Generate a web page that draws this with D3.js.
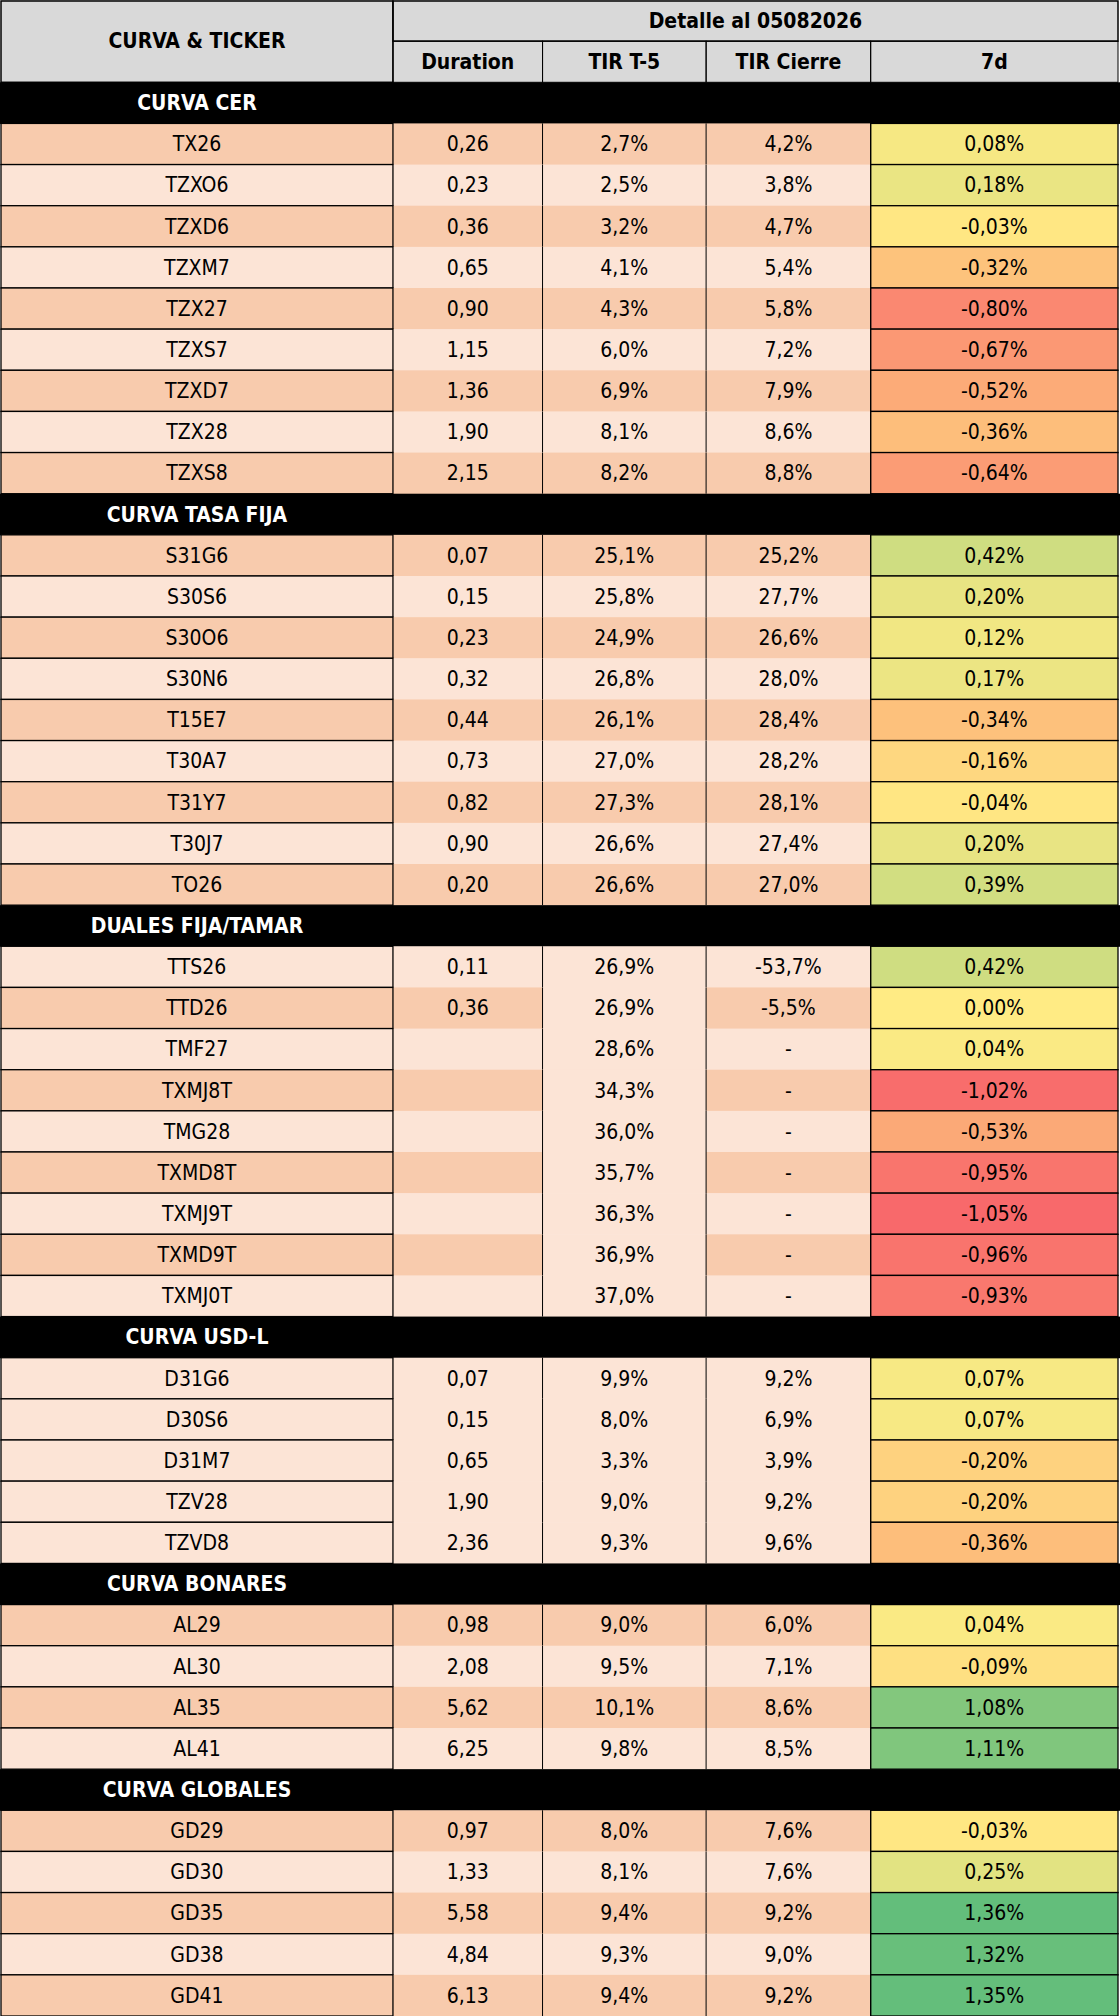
<!DOCTYPE html>
<html><head><meta charset="utf-8">
<script src="https://cdn.jsdelivr.net/npm/d3@7"></script>
<style>body{margin:0;background:#fff}text{font-family:"Liberation Sans Narrow","Arial Narrow","DejaVu Sans Condensed","DejaVu Sans",sans-serif;font-stretch:condensed}</style>
</head><body><div id="chart"></div>
<script>
var svgWidth = 1120, svgHeight = 2016;

// data
var dateLabel = "Detalle al 05082026";
var columns = ["Duration", "TIR T-5", "TIR Cierre", "7d"];
var sections = ["CURVA CER", "CURVA TASA FIJA", "DUALES FIJA/TAMAR", "CURVA USD-L", "CURVA BONARES", "CURVA GLOBALES"];
var tickers = [
  ["TX26","TZXO6","TZXD6","TZXM7","TZX27","TZXS7","TZXD7","TZX28","TZXS8"],
  ["S31G6","S30S6","S30O6","S30N6","T15E7","T30A7","T31Y7","T30J7","TO26"],
  ["TTS26","TTD26","TMF27","TXMJ8T","TMG28","TXMD8T","TXMJ9T","TXMD9T","TXMJ0T"],
  ["D31G6","D30S6","D31M7","TZV28","TZVD8"],
  ["AL29","AL30","AL35","AL41"],
  ["GD29","GD30","GD35","GD38","GD41"]
];
var duration = [
  [0.26,0.23,0.36,0.65,0.90,1.15,1.36,1.90,2.15],
  [0.07,0.15,0.23,0.32,0.44,0.73,0.82,0.90,0.20],
  [0.11,0.36,null,null,null,null,null,null,null],
  [0.07,0.15,0.65,1.90,2.36],
  [0.98,2.08,5.62,6.25],
  [0.97,1.33,5.58,4.84,6.13]
];
var tirT5 = [
  [2.7,2.5,3.2,4.1,4.3,6.0,6.9,8.1,8.2],
  [25.1,25.8,24.9,26.8,26.1,27.0,27.3,26.6,26.6],
  [26.9,26.9,28.6,34.3,36.0,35.7,36.3,36.9,37.0],
  [9.9,8.0,3.3,9.0,9.3],
  [9.0,9.5,10.1,9.8],
  [8.0,8.1,9.4,9.3,9.4]
];
var tirCierre = [
  [4.2,3.8,4.7,5.4,5.8,7.2,7.9,8.6,8.8],
  [25.2,27.7,26.6,28.0,28.4,28.2,28.1,27.4,27.0],
  [-53.7,-5.5,null,null,null,null,null,null,null],
  [9.2,6.9,3.9,9.2,9.6],
  [6.0,7.1,8.6,8.5],
  [7.6,7.6,9.2,9.0,9.2]
];
var var7d = [
  [0.08,0.18,-0.03,-0.32,-0.80,-0.67,-0.52,-0.36,-0.64],
  [0.42,0.20,0.12,0.17,-0.34,-0.16,-0.04,0.20,0.39],
  [0.42,0.00,0.04,-1.02,-0.53,-0.95,-1.05,-0.96,-0.93],
  [0.07,0.07,-0.20,-0.20,-0.36],
  [0.04,-0.09,1.08,1.11],
  [-0.03,0.25,1.36,1.32,1.35]
];

// styling
var colWeights = [393, 150, 164, 165, 248];
var stripeStart = [1, 1, 0, -1, 1, 1]; // 1 = dark first, 0 = light first, -1 = none
var dark = "#F8CBAD", light = "#FCE4D6";
var fs = 21;

var fmt = function(v, d) { return v.toFixed(d).replace(".", ","); };

// flatten into rows
var rows = [];
sections.forEach(function(s, si) {
  rows.push({type: "section", label: s});
  tickers[si].forEach(function(t, i) {
    var st = stripeStart[si];
    var isDark = st < 0 ? false : ((i % 2 === 0) === (st === 1));
    rows.push({type: "data", si: si, i: i, ticker: t, dur: duration[si][i], t5: tirT5[si][i],
      tc: tirCierre[si][i], v: var7d[si][i], dark: isDark});
  });
});

var nRows = rows.length + 2;
var y = d3.scaleBand().domain(d3.range(nRows)).range([0, svgHeight]);
var cum = [0].concat(Array.from(d3.cumsum(colWeights)));
var x = d3.scaleLinear().domain([0, d3.sum(colWeights)]).range([1, svgWidth - 2]);
var colX = function(c) { return x(cum[c]); };
var colW = function(c) { return x(cum[c + 1]) - x(cum[c]); };

var color7d = d3.scaleLinear()
  .domain([d3.min(var7d.flat()), 0, d3.max(var7d.flat())])
  .range(["#F8696B", "#FFEB84", "#63BE7B"]);

var svg = d3.select("#chart").append("svg").attr("width", svgWidth).attr("height", svgHeight);
var rh = y.bandwidth();

// header
var hdr = svg.append("g");
hdr.append("rect").attr("x", colX(0)).attr("y", y(0)).attr("width", colX(5) - colX(0)).attr("height", 2 * rh).attr("fill", "#D9D9D9");
hdr.append("rect").attr("x", colX(0)).attr("y", y(0) + 1).attr("width", colW(0)).attr("height", 2 * rh - 1).attr("fill", "none").attr("stroke", "#000").attr("stroke-width", 1.5);
hdr.append("rect").attr("x", colX(1)).attr("y", y(0) + 1).attr("width", colX(5) - colX(1)).attr("height", rh - 1).attr("fill", "none").attr("stroke", "#000").attr("stroke-width", 1.5);
columns.forEach(function(c, k) {
  hdr.append("rect").attr("x", colX(k + 1)).attr("y", y(1)).attr("width", colW(k + 1)).attr("height", rh).attr("fill", "none").attr("stroke", "#000").attr("stroke-width", 1);
  hdr.append("text").attr("x", colX(k + 1) + colW(k + 1) / 2).attr("y", y(1) + rh / 2).attr("dy", "0.35em")
    .attr("text-anchor", "middle").attr("font-weight", "bold").attr("font-size", fs).text(c);
});
hdr.append("text").attr("x", colX(0) + colW(0) / 2).attr("y", y(1)).attr("dy", "0.35em")
  .attr("text-anchor", "middle").attr("font-weight", "bold").attr("font-size", fs).text("CURVA & TICKER");
hdr.append("text").attr("x", (colX(1) + colX(5)) / 2).attr("y", y(0) + rh / 2).attr("dy", "0.35em")
  .attr("text-anchor", "middle").attr("font-weight", "bold").attr("font-size", fs).text(dateLabel);

// body
var body = svg.append("g");
rows.forEach(function(r, k) {
  var yy = y(k + 2);
  if (r.type === "section") {
    body.append("rect").attr("x", 0).attr("y", yy).attr("width", svgWidth).attr("height", rh + 0.5).attr("fill", "#000");
    body.append("text").attr("x", colX(0) + colW(0) / 2).attr("y", yy + rh / 2).attr("dy", "0.35em")
      .attr("text-anchor", "middle").attr("font-weight", "bold").attr("font-size", fs).attr("fill", "#fff").text(r.label);
    return;
  }
  var fills = [r.dark ? dark : light, r.dark ? dark : light,
    (r.si === 2) ? light : (r.dark ? dark : light), r.dark ? dark : light, color7d(r.v)];
  var texts = [r.ticker, r.dur == null ? "" : fmt(r.dur, 2), fmt(r.t5, 1) + "%",
    r.tc == null ? "-" : fmt(r.tc, 1) + "%", fmt(r.v, 2) + "%"];
  fills.forEach(function(f, c) {
    body.append("rect").attr("x", colX(c)).attr("y", yy).attr("width", colW(c)).attr("height", rh + 0.5).attr("fill", f);
    body.append("text").attr("x", colX(c) + colW(c) / 2).attr("y", yy + rh / 2).attr("dy", "0.35em")
      .attr("text-anchor", "middle").attr("font-size", fs).attr("fill", "#000").text(texts[c]);
  });
  // borders: full box in ticker and 7d columns
  [0, 4].forEach(function(c) {
    body.append("rect").attr("x", colX(c)).attr("y", yy).attr("width", colW(c)).attr("height", rh)
      .attr("fill", "none").attr("stroke", "#000").attr("stroke-width", 1.3);
  });
  [1, 2, 3].forEach(function(c) {
    body.append("line").attr("x1", colX(c + 1)).attr("x2", colX(c + 1)).attr("y1", yy).attr("y2", yy + rh)
      .attr("stroke", "#000").attr("stroke-width", 1);
  });
});
</script></body></html>
